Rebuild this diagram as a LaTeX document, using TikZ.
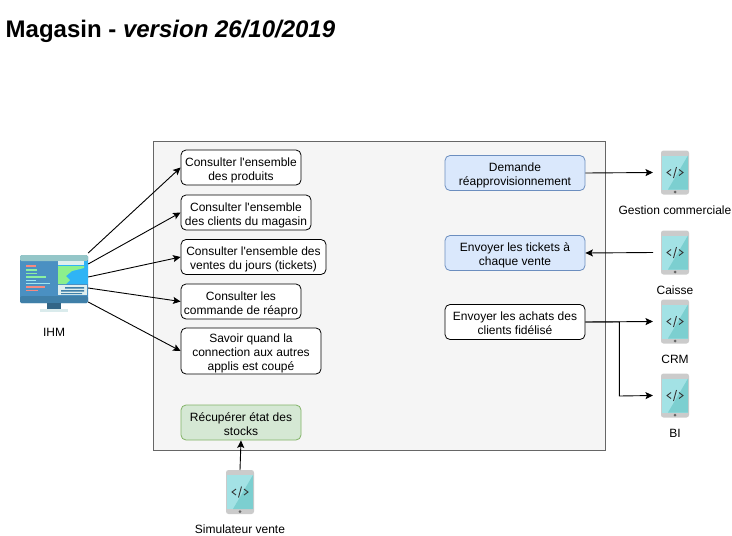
\documentclass[tikz,border=0pt]{standalone}
\usepackage{fontspec}
\setmainfont{Liberation Sans}[Ligatures=TeXOff]
\usetikzlibrary{arrows.meta}
\definecolor{panelfill}{HTML}{F5F5F5}
\definecolor{panelline}{HTML}{666666}
\definecolor{bluefill}{HTML}{DAE8FC}
\definecolor{blueline}{HTML}{6C8EBF}
\definecolor{greenfill}{HTML}{D5E8D4}
\definecolor{greenline}{HTML}{82B366}
\definecolor{phonegrey}{HTML}{CBCBCB}
\definecolor{phonelight}{HTML}{A3E2E5}
\definecolor{phonedark}{HTML}{7CCFD0}
\definecolor{screenblue}{HTML}{4A90C2}
\definecolor{screendark}{HTML}{3F7FA8}
\definecolor{screentop}{HTML}{94C6C8}
\definecolor{mapblue}{HTML}{2FB4F5}
\definecolor{mapgreen}{HTML}{8CF08C}
\definecolor{codered}{HTML}{F58A80}
\definecolor{codegreen}{HTML}{8CF0A0}
\definecolor{codecyan}{HTML}{A0E6F0}
\tikzset{
  usecase/.style={draw=black,line width=0.8pt,fill=white,rounded corners=5pt,align=center,font=\fontsize{12}{14}\selectfont,inner sep=0pt,text depth=0pt,text height=25pt},
  bluecase/.style={usecase,draw=blueline,fill=bluefill},
  greencase/.style={usecase,draw=greenline,fill=greenfill},
  phonebody/.style={fill=phonegrey,rounded corners=2.5pt,minimum width=28pt,minimum height=44pt,inner sep=0pt,outer xsep=8pt,outer ysep=0pt},
  iconlabel/.style={font=\fontsize{12}{14}\selectfont,inner sep=0pt},
  link/.style={->,line width=0.9pt}
}
% phone icon: node name, position, label
\newcommand{\phoneicon}[4]{
  \node[phonebody] (#1) at (#2,#3) {};
  \begin{scope}[shift={(#1.center)}]
    \fill[phonelight] (-13,-17) rectangle (13,17);
    \fill[phonedark] (13,-17) -- (13,17) -- (-7,17) -- cycle;
    \fill[black!60] (0,19.5) circle(1.5);
    \draw[black!80,line width=0.9pt] (-4,-3) -- (-8,0) -- (-4,3) (4,-3) -- (8,0) -- (4,3) (1.5,-5.5) -- (-1.5,5.5);
  \end{scope}
  \node[iconlabel] (#1label) at (#2,#3+37.5) {#4};
}
\begin{document}
\begin{tikzpicture}[x=1pt,y=-1pt,>={Stealth[length=7.5pt,width=7pt,inset=1.5pt]}]
    \useasboundingbox (0,0) rectangle (732,536);

    % title
    \node[anchor=west,inner sep=0pt,font=\fontsize{24}{28}\selectfont\bfseries] (title) at (5.5,31) {Magasin - \textit{version 26/10/2019}};

    % main panel
    \node[draw=panelline,fill=panelfill,minimum width=452pt,minimum height=309pt,inner sep=0pt] (magasin) at (379,295.5) {};

    % left column
    \node[usecase,minimum width=120pt,minimum height=35pt] (produits) at (241,167.5) {Consulter l'ensemble\\des produits};
    \node[usecase,minimum width=130pt,minimum height=35pt] (clients) at (246,212.5) {Consulter l'ensemble\\des clients du magasin};
    \node[usecase,minimum width=145pt,minimum height=35pt] (ventes) at (253.5,257) {Consulter l'ensemble des\\ventes du jours (tickets)};
    \node[usecase,minimum width=120pt,minimum height=35pt] (reapro) at (241,301.5) {Consulter les\\commande de réapro};
    \node[usecase,text height=39pt,minimum width=140pt,minimum height=46pt] (connexion) at (251,351) {Savoir quand la\\connection aux autres\\applis est coupé};
    \node[greencase,minimum width=120pt,minimum height=35pt] (stocks) at (241,422.5) {Récupérer état des\\stocks};

    % right column
    \node[bluecase,minimum width=140pt,minimum height=35pt] (demande) at (515,173) {Demande\\réapprovisionnement};
    \node[bluecase,minimum width=140pt,minimum height=35pt] (tickets) at (515,253) {Envoyer les tickets à\\chaque vente};
    \node[usecase,minimum width=140pt,minimum height=35pt] (achats) at (515,322) {Envoyer les achats des\\clients fidélisé};

    % phones
    \phoneicon{gestion}{675}{172.5}{Gestion commerciale}
    \phoneicon{caisse}{675}{252.5}{Caisse}
    \phoneicon{crm}{675}{321.5}{CRM}
    \phoneicon{bi}{675}{395.5}{BI}
    \phoneicon{simulateur}{240}{492}{Simulateur vente}

    % the screen
    \node[minimum width=68pt,minimum height=48pt,inner sep=0pt] (ihm) at (54,279) {};
    \fill[screenblue,rounded corners=1.5pt] (20,255) rectangle (88,303);
    \fill[screentop,rounded corners=1.5pt] (20,255) rectangle (88,261);
    \fill[screendark,rounded corners=1.5pt] (20,296) rectangle (88,303);
    \fill[screendark!80!black] (47,303) rectangle (61,309);
    \fill[screentop!35] (40,309) rectangle (68,312);
    \fill[mapblue] (58,261) rectangle (88,284);
    \fill[screentop!30] (58,261) rectangle (84,265);
    \fill[mapgreen] (58,266) -- (84,266) -- (84,268) -- (72,271) -- (66,276) -- (70,280) -- (66,284) -- (58,284) -- cycle;
    \fill[screentop!30] (58,285) rectangle (87,295);
    \fill[screendark] (65,287) rectangle (84,288.5) (61,290) rectangle (84,291.5) (61,293) rectangle (82,294);
    \foreach \yy/\ww/\cc in {265/10/codered,269/11/codegreen,272.5/11/codegreen,276/20/codegreen,279.5/10/codecyan,282.5/24/codecyan,286/19/codered,289.5/12/codered}
        \fill[\cc] (26,\yy) rectangle +(\ww,1.8);
    \node[iconlabel] (ihmlabel) at (54,332) {IHM};

    % arrows
    \draw[link] ([yshift=26pt]ihm.east) -- (produits.west);
    \draw[link] ([yshift=15pt]ihm.east) -- (clients.west);
    \draw[link] ([yshift=2pt]ihm.east) -- (ventes.west);
    \draw[link] ([yshift=-9pt]ihm.east) -- (reapro.west);
    \draw[link] ([yshift=-23pt]ihm.east) -- (connexion.west);
    \draw[link] (simulateur.north) -- (stocks.south);
    \draw[link] (demande.east) -- (gestion.west);
    \draw[link] (caisse.west) -- (tickets.east);
    \draw[link] (achats.east) -- (crm.west);
    \draw[link] (achats.east) -| ++(34,74) -- (bi.west);
\end{tikzpicture}
\end{document}
